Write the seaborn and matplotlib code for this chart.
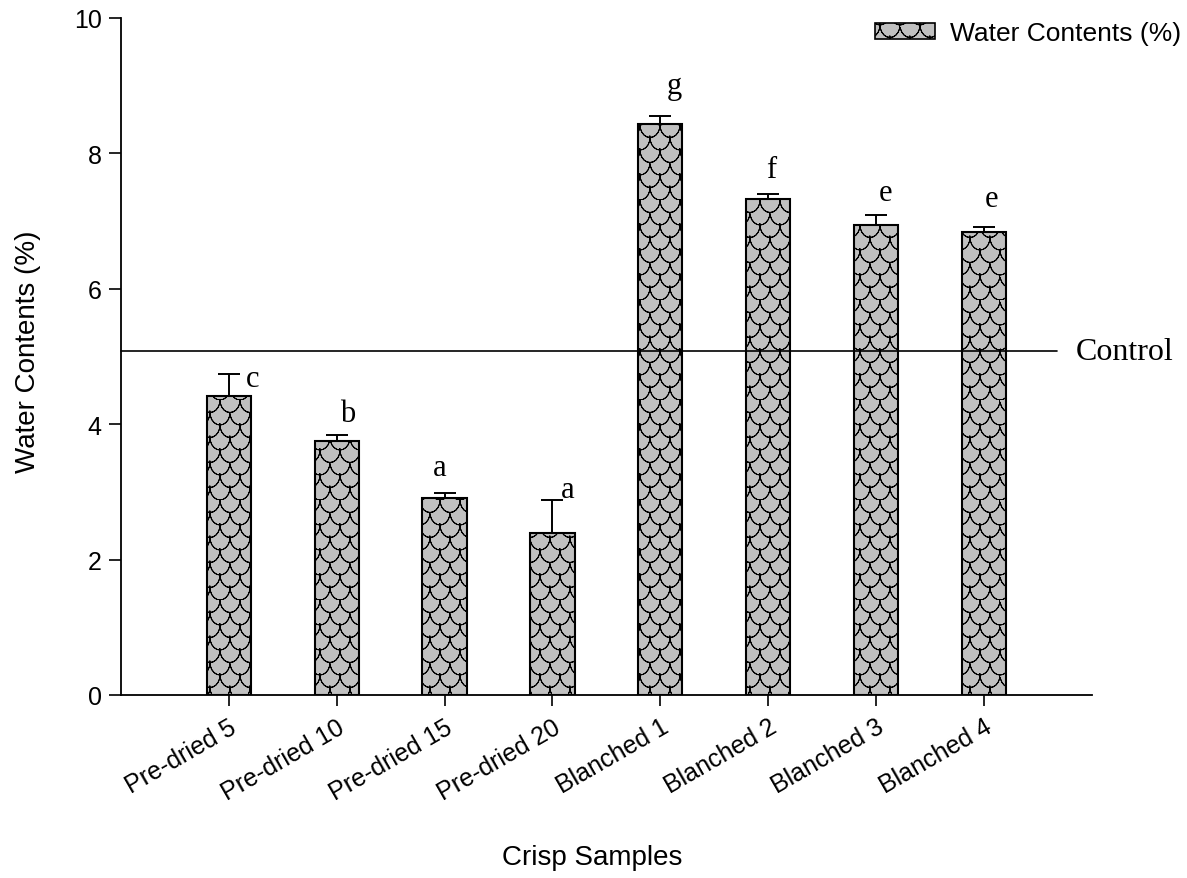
import numpy as np
import pandas as pd
import matplotlib
matplotlib.use("Agg")
import matplotlib.pyplot as plt
import matplotlib.hatch as mhatch
from matplotlib.patches import Patch
import seaborn as sns

# Sample groups and measured water content (mean and upper SD)
samples = ["Pre-dried 5", "Pre-dried 10", "Pre-dried 15", "Pre-dried 20",
           "Blanched 1", "Blanched 2", "Blanched 3", "Blanched 4"]
water = [4.42, 3.75, 2.91, 2.39, 8.43, 7.33, 6.94, 6.84]
water_sd = [0.32, 0.09, 0.07, 0.49, 0.12, 0.07, 0.15, 0.07]
letters = ["c", "b", "a", "a", "g", "f", "e", "e"]
letter_dx = [0.22, 0.10, -0.05, 0.14, 0.13, 0.03, 0.09, 0.07]
letter_y = [4.56, 4.05, 3.25, 2.92, 8.89, 7.65, 7.31, 7.22]
control_value = 5.08
y_ticks = [0, 2, 4, 6, 8, 10]


class ScaleHatch(mhatch.HatchPatternBase):
    """Staggered rows of scallops, used for the 'o' hatch character."""
    cols = 5
    rows = 8
    seg = 10

    def _centres(self):
        out = []
        for j in range(self.rows):
            y0 = (j + 1) / self.rows
            if j % 2:
                xs = [(i + 0.5) / self.cols for i in range(self.cols)]
            else:
                xs = [i / self.cols for i in range(self.cols + 1)]
            out.extend((x, y0) for x in xs)
        return out

    def __init__(self, hatch, density):
        self.active = "o" in hatch
        per_arc = 2 * self.seg + 1
        self.num_vertices = (len(self._centres()) * per_arc
                             if self.active else 0)

    def set_vertices_and_codes(self, vertices, codes):
        t = np.linspace(0, np.pi, self.seg + 1)
        # out along the arc and back again, so the stroke encloses no area
        t = np.concatenate([t, t[-2::-1]])
        rx = 0.5 / self.cols
        ry = 1.0 / self.rows
        n = len(t)
        k = 0
        for cx, cy in self._centres():
            vertices[k:k + n, 0] = cx + rx * np.cos(t)
            vertices[k:k + n, 1] = cy - ry * np.sin(t)
            codes[k] = mhatch.Path.MOVETO
            codes[k + 1:k + n] = mhatch.Path.LINETO
            k += n


mhatch._hatch_types[:] = [h for h in mhatch._hatch_types
                          if h is not mhatch.SmallCircles] + [ScaleHatch]

sns.set_style("ticks")
plt.rcParams["font.family"] = ["Liberation Sans", "DejaVu Sans"]
plt.rcParams["hatch.linewidth"] = 0.7
plt.rcParams["text.color"] = "black"

df = pd.DataFrame({"sample": samples, "water": water})

fig = plt.figure(figsize=(11.87, 8.79), dpi=100)
ax = fig.add_axes([0.1019, 0.2082, 0.8180, 0.7702])

bar_color = "#c0c0c0"
sns.barplot(data=df, x="sample", y="water", order=samples, ax=ax,
            color=bar_color, saturation=1, width=0.41, errorbar=None,
            edgecolor="black", linewidth=1.5, hatch="o")

xpos = np.arange(len(samples))
ax.errorbar(xpos, water, yerr=[np.zeros(len(water)), water_sd], fmt="none",
            ecolor="black", elinewidth=1.4, capsize=8, capthick=1.4,
            zorder=3)

for x, dx, y, s in zip(xpos, letter_dx, letter_y, letters):
    ax.text(x + dx, y, s, ha="center", va="baseline", fontsize=22,
            family="Liberation Serif", color="black")

# Control reference line
ax.plot([-1, 7.68], [control_value, control_value], color="black", lw=1.2,
        zorder=4, clip_on=False)
ax.text(7.85, control_value, "Control", ha="left", va="center", fontsize=23,
        family="Liberation Serif", color="black")

ax.set_xlim(-1, 8)
ax.set_ylim(0, 10)
ax.set_yticks(y_ticks)
ax.set_yticklabels([str(v) for v in y_ticks])
ax.set_xticks(xpos)
ax.set_xticklabels(samples, rotation=30, ha="right", rotation_mode="anchor")

for side in ["top", "right"]:
    ax.spines[side].set_visible(False)
for side in ["left", "bottom"]:
    ax.spines[side].set_linewidth(1.3)
    ax.spines[side].set_color("black")

ax.tick_params(axis="y", direction="out", length=9, width=1.2, labelsize=18,
               colors="black", pad=5)
ax.tick_params(axis="x", direction="out", length=8, width=1.2, labelsize=18,
               colors="black", pad=6)

ax.set_xlabel("Crisp Samples", fontsize=20, color="black")
ax.set_ylabel("Water Contents (%)", fontsize=20, color="black")
ax.xaxis.set_label_coords(0.485, -0.239)
ax.xaxis.label.set_va("center")
ax.yaxis.set_label_coords(-0.096, 0.508)
ax.yaxis.label.set_va("center")

handle = Patch(facecolor=bar_color, edgecolor="black", linewidth=1.2,
               hatch="o", label="Water Contents (%)")
fig.legend(handles=[handle], loc="upper right", bbox_to_anchor=(0.995, 0.975),
           bbox_transform=fig.transFigure, frameon=False, fontsize=19,
           handlelength=2.3, handleheight=0.55, handletextpad=0.55,
           borderaxespad=0, borderpad=0, labelcolor="black")

fig.savefig("out.png", dpi=100, facecolor="white")
